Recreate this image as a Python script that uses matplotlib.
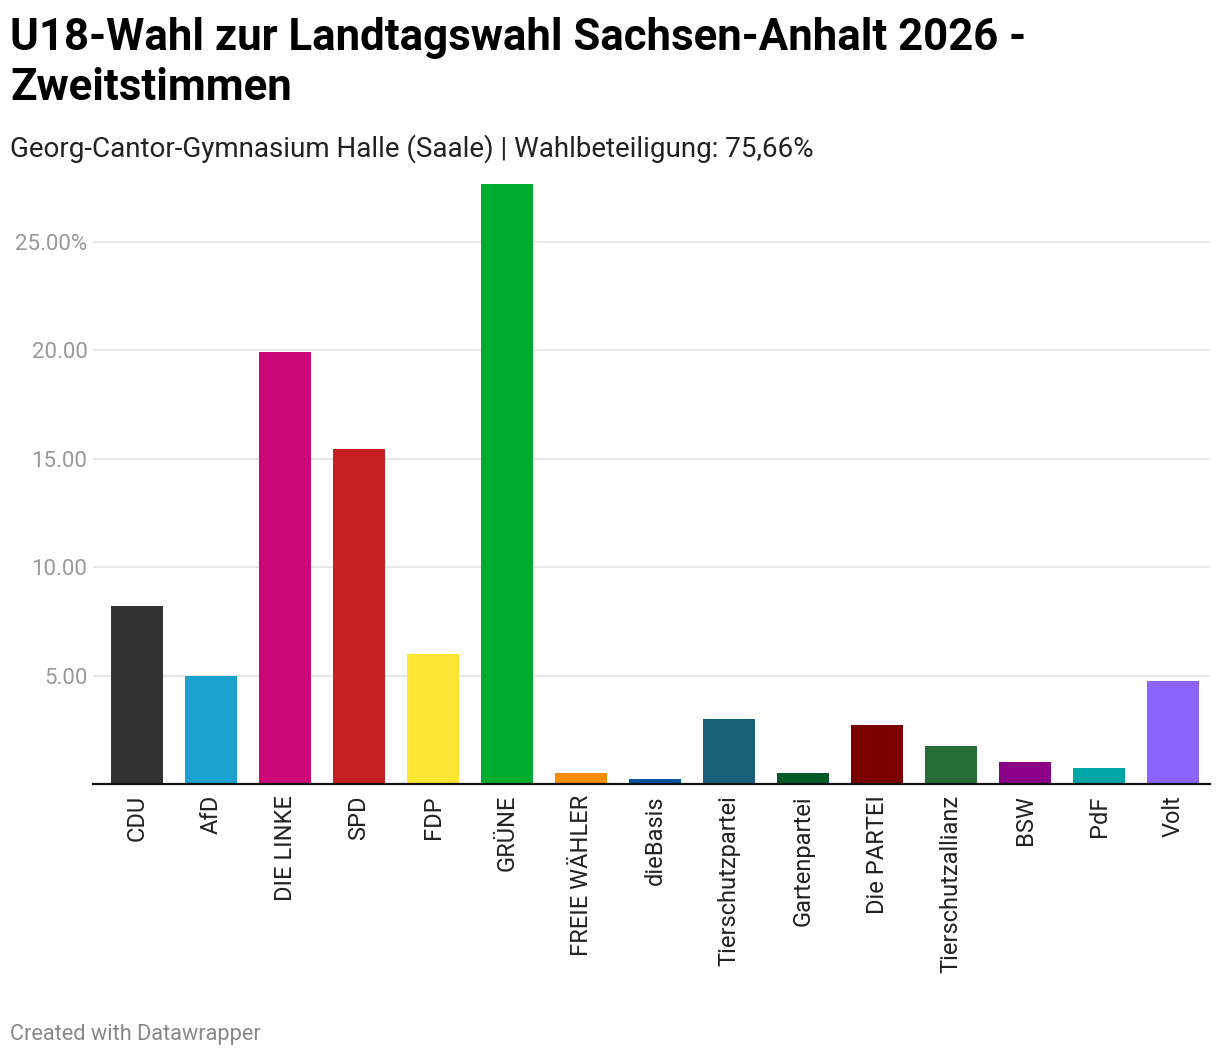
import matplotlib
matplotlib.use("Agg")
import matplotlib.pyplot as plt
import numpy as np

plt.rcParams['font.family'] = ['Roboto', 'DejaVu Sans']

# U18-Wahl, Zweitstimmen in %
parteien = ["CDU", "AfD", "DIE LINKE", "SPD", "FDP", "GRÜNE", "FREIE WÄHLER",
            "dieBasis", "Tierschutzpartei", "Gartenpartei", "Die PARTEI",
            "Tierschutzallianz", "BSW", "PdF", "Volt"]
anteile = [8.21, 4.98, 19.93, 15.45, 6.0, 27.67, 0.49,
           0.24, 3.0, 0.49, 2.73, 1.75, 1.0, 0.74, 4.75]
farben = ["#323232", "#1aa1cd", "#cc0778", "#c51f1f", "#ffe533", "#00ac2e", "#f78c00",
          "#0051a0", "#186178", "#005a26", "#7b0000", "#256d35", "#8a0087", "#00a6a5", "#8c63fd"]
yticks = [5, 10, 15, 20, 25]
ytick_labels = ["5.00", "10.00", "15.00", "20.00", "25.00%"]

W, H = 1220, 1058
fig = plt.figure(figsize=(W / 100, H / 100), dpi=100)
ax = fig.add_axes([93 / W, 1 - 784 / H, (1210 - 93) / W, 600 / H])

x = np.arange(len(parteien))
ax.bar(x, anteile, width=0.703, color=farben, zorder=2)

ax.set_xlim(-0.595, 14.5)
ax.set_ylim(0, 27.67)
ax.set_yticks(yticks)
ax.set_yticklabels(ytick_labels)
ax.set_xticks(x)
ax.set_xticklabels(parteien, rotation=90, fontsize=17, color="#222222")
ax.tick_params(axis="x", length=0, pad=8)
ax.tick_params(axis="y", length=0, pad=4, labelsize=16, labelcolor="#999999")
ax.grid(axis="y", color="#e3e3e3", linewidth=1.2, zorder=0)

for s in ["top", "right", "left"]:
    ax.spines[s].set_visible(False)
ax.spines["bottom"].set_color("#111111")
ax.spines["bottom"].set_linewidth(1.6)
ax.spines["bottom"].set_zorder(3)

fig.text(10 / W, 1 - 50 / H, "U18-Wahl zur Landtagswahl Sachsen-Anhalt 2026 -",
         fontsize=31.5, weight="bold", va="baseline", color="#000000")
fig.text(10 / W, 1 - 100 / H, "Zweitstimmen",
         fontsize=31.5, weight="bold", va="baseline", color="#000000")
fig.text(10 / W, 1 - 157 / H, "Georg-Cantor-Gymnasium Halle (Saale) | Wahlbeteiligung: 75,66%",
         fontsize=20, va="baseline", color="#222222")
fig.text(10 / W, 1 - 1040 / H, "Created with Datawrapper",
         fontsize=15.7, va="baseline", color="#888888")

fig.savefig("out.png", dpi=100, facecolor="white")
